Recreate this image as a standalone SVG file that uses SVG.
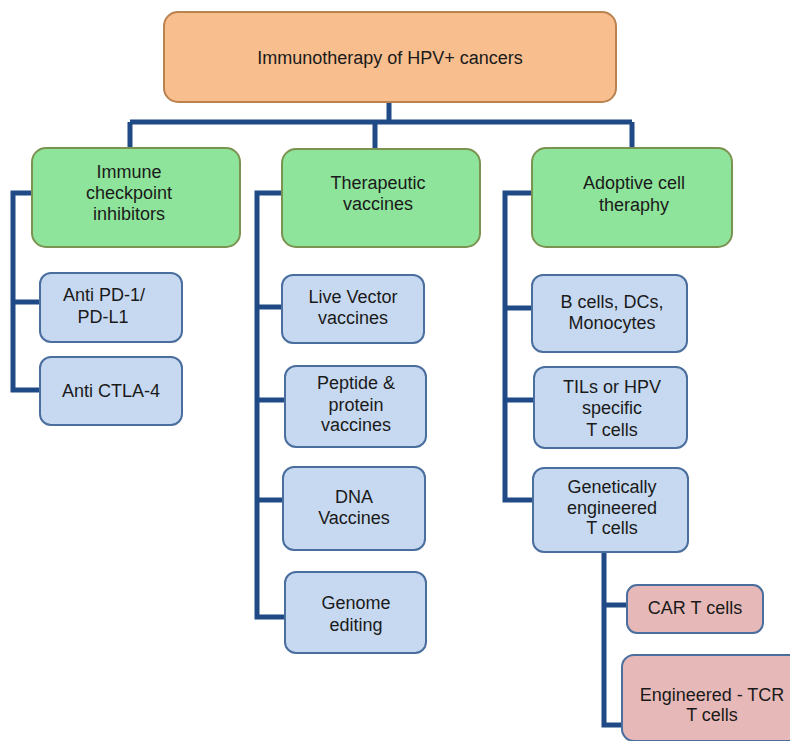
<svg xmlns="http://www.w3.org/2000/svg" width="790" height="741" viewBox="0 0 790 741">
<style>
text{font-family:"Liberation Sans",Arial,sans-serif;font-size:18px;fill:#1a1a1a;text-anchor:middle}
.top{fill:#F8BE8E;stroke:#B9824E;stroke-width:2}
.grn{fill:#8EE49A;stroke:#7B9350;stroke-width:2}
.blu{fill:#C7D9F0;stroke:#4A6E9E;stroke-width:2}
.pnk{fill:#E6B9B8;stroke:#4A6E9E;stroke-width:2}
.con{fill:none;stroke:#1F4A85;stroke-width:5;stroke-linejoin:miter}
</style>
<rect width="790" height="741" fill="#fff"/>
<g id="connectors">
<path class="con" d="M389 102V122M130 122H632M130 122V149M375 122V149M632 122V149"/>
<path class="con" d="M33 193H13V390H41M13 302H41"/>
<path class="con" d="M283 193H257V617H285M257 307H283M257 400H286M257 500H284"/>
<path class="con" d="M533 193H505V500H534M505 308H533M505 400H535"/>
<path class="con" d="M604 552V725H623M604 605H628"/>
</g>
<g id="root"><rect class="top" x="164" y="12" width="452" height="90" rx="14"/><text x="390" y="64">Immunotherapy of HPV+ cancers</text></g>
<g id="ici"><rect class="grn" x="32" y="148" width="208" height="99" rx="14"/><text x="129" y="178">Immune</text><text x="129" y="199">checkpoint</text><text x="129" y="220">inhibitors</text></g>
<g id="tv"><rect class="grn" x="282" y="149" width="198" height="98" rx="14"/><text x="378" y="189">Therapeutic</text><text x="378" y="210">vaccines</text></g>
<g id="act"><rect class="grn" x="532" y="148" width="200" height="99" rx="14"/><text x="634" y="189">Adoptive cell</text><text x="634" y="211">theraphy</text></g>
<g id="pd1"><rect class="blu" x="40" y="273" width="142" height="69" rx="11"/><text x="104" y="301">Anti PD-1/</text><text x="103" y="323">PD-L1</text></g>
<g id="ctla4"><rect class="blu" x="40" y="357" width="142" height="68" rx="11"/><text x="111" y="397">Anti CTLA-4</text></g>
<g id="live"><rect class="blu" x="282" y="275" width="142" height="68" rx="11"/><text x="353" y="303">Live Vector</text><text x="353" y="324">vaccines</text></g>
<g id="peptide"><rect class="blu" x="285" y="366" width="141" height="81" rx="11"/><text x="356" y="389">Peptide &amp;</text><text x="356" y="411">protein</text><text x="356" y="431">vaccines</text></g>
<g id="dna"><rect class="blu" x="283" y="467" width="142" height="83" rx="11"/><text x="354" y="503">DNA</text><text x="354" y="524">Vaccines</text></g>
<g id="genome"><rect class="blu" x="285" y="572" width="141" height="81" rx="11"/><text x="356" y="609">Genome</text><text x="356" y="631">editing</text></g>
<g id="bcells"><rect class="blu" x="532" y="275" width="155" height="77" rx="11"/><text x="612" y="308">B cells, DCs,</text><text x="612" y="329">Monocytes</text></g>
<g id="tils"><rect class="blu" x="534" y="367" width="153" height="81" rx="11"/><text x="612" y="393">TILs or HPV</text><text x="612" y="414">specific</text><text x="612" y="436">T cells</text></g>
<g id="gen"><rect class="blu" x="533" y="468" width="155" height="84" rx="11"/><text x="612" y="493">Genetically</text><text x="612" y="514">engineered</text><text x="612" y="534">T cells</text></g>
<g id="car"><rect class="pnk" x="627" y="585" width="136" height="48" rx="10"/><text x="695" y="614">CAR T cells</text></g>
<g id="tcr"><rect class="pnk" x="622" y="655" width="180" height="86" rx="12"/><text x="712" y="701">Engineered - TCR</text><text x="712" y="721">T cells</text></g>
</svg>
